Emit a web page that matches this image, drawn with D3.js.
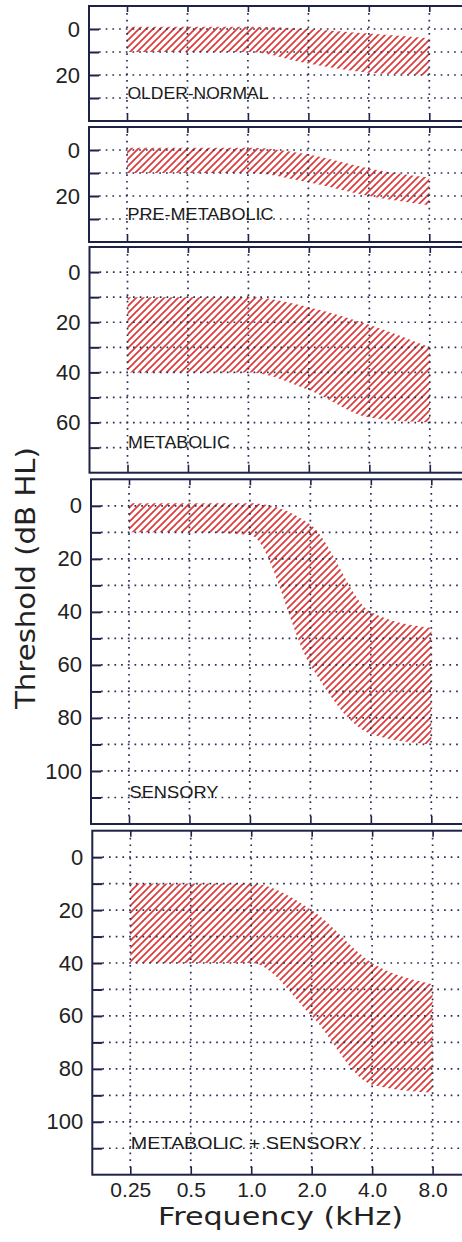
<!DOCTYPE html>
<html><head><meta charset="utf-8">
<script src="https://cdn.jsdelivr.net/npm/d3@7"></script>
<style>body{margin:0;background:#fff;overflow:hidden}</style>
</head><body>
<script>
// ---------------- DATA ----------------
const frequencies = [0.25, 0.5, 1, 2, 4, 8];
const freqLabels = ["0.25", "0.5", "1.0", "2.0", "4.0", "8.0"];
const panelNames = ["OLDER-NORMAL", "PRE-METABOLIC", "METABOLIC", "SENSORY", "METABOLIC + SENSORY"];
const panelMaxDb = [40, 40, 80, 120, 120];
const yTickLabels = [[0, 20], [0, 20], [0, 20, 40, 60], [0, 20, 40, 60, 80, 100], [0, 20, 40, 60, 80, 100]];
// upper (best) and lower (worst) threshold edge of each shaded range, dB HL
const upperOlderNormal = [-1, -1, -1, 0, 2, 4];
const lowerOlderNormal = [10, 10, 10, 15, 19, 20];
const upperPreMetabolic = [-1, -1, -1, 2, 8, 12];
const lowerPreMetabolic = [10, 10, 10, 14, 20, 24];
const upperMetabolic = [10, 10, 10, 14, 21, 30];
const lowerMetabolic = [40, 40, 40, 47, 58, 60];
const upperSensory = [-1, -1, -1, 7, 40, 46];
const lowerSensory = [10, 10, 11, 60, 86, 90];
const upperMetSens = [10, 10, 10, 20, 40, 48];
const lowerMetSens = [40, 40, 40, 60, 86, 89];
const uppers = [upperOlderNormal, upperPreMetabolic, upperMetabolic, upperSensory, upperMetSens];
const lowers = [lowerOlderNormal, lowerPreMetabolic, lowerMetabolic, lowerSensory, lowerMetSens];

// ---------------- LAYOUT ----------------
const W = 462, H = 1242;
const panelTop = [6, 127, 247, 479.3, 830.7];
const panelBottom = [121, 242, 472.7, 824, 1174.7];
const panelShift = [0, 0, 0.5, 2, 3.3];
const axisColor = "#1e2246";
const gridColor = "#2a2f55";
const hatchColor = "#dc3a3a";

const svg = d3.select("body").append("svg").attr("width", W).attr("height", H)
  .style("display", "block");

const defs = svg.append("defs");
const P = 7;
const pat = defs.append("pattern").attr("id", "hatch")
  .attr("patternUnits", "userSpaceOnUse").attr("width", P).attr("height", P);
pat.append("path").attr("d", `M-2,2 L2,-2 M0,${P} L${P},0 M${P - 2},${P + 2} L${P + 2},${P - 2}`)
  .attr("stroke", hatchColor).attr("stroke-width", 1.7).attr("fill", "none");

panelNames.forEach((name, i) => {
  const dx = panelShift[i];
  const left = 89 + dx, right = 490;
  const x = d3.scaleLog().base(2).domain([0.25, 8]).range([127 + dx, 429.3 + dx]);
  const y = d3.scaleLinear().domain([-10, panelMaxDb[i]]).range([panelTop[i], panelBottom[i]]);
  const g = svg.append("g");

  const ticks = d3.range(0, panelMaxDb[i], 10);

  // shaded range
  const data = frequencies.map((f, k) => ({ f, hi: uppers[i][k], lo: lowers[i][k] }));
  const area = d3.area().x(d => x(d.f)).y0(d => y(d.lo)).y1(d => y(d.hi)).curve(d3.curveMonotoneX);
  g.append("path").datum(data).attr("d", area).attr("fill", "url(#hatch)");

  // dotted grid
  g.selectAll(".hg").data(ticks).enter().append("line")
    .attr("x1", left + 10).attr("x2", right)
    .attr("y1", d => y(d)).attr("y2", d => y(d))
    .attr("stroke", gridColor).attr("stroke-width", 1.7).attr("stroke-dasharray", "1.7,5");
  g.selectAll(".vg").data(frequencies).enter().append("line")
    .attr("x1", d => x(d)).attr("x2", d => x(d))
    .attr("y1", panelTop[i] + 7).attr("y2", panelBottom[i] - 7)
    .attr("stroke", gridColor).attr("stroke-width", 1.7).attr("stroke-dasharray", "1.7,5");

  // left axis
  const ya = g.append("g").attr("transform", `translate(${left},0)`)
    .call(d3.axisLeft(y).tickValues(ticks).tickSize(-10).tickPadding(9)
      .tickFormat(d => yTickLabels[i].includes(d) ? String(d) : ""));
  ya.select(".domain").remove();
  ya.selectAll("line").attr("stroke", axisColor).attr("stroke-width", 2);
  ya.selectAll("text").attr("font-family", "Liberation Sans, Arial, sans-serif")
    .attr("font-size", 22).attr("fill", "#222");

  // bottom axis (ticks inward)
  const xb = g.append("g").attr("transform", `translate(0,${panelBottom[i]})`)
    .call(d3.axisBottom(x).tickValues(frequencies).tickSize(-8).tickPadding(7)
      .tickFormat((d, k) => i === panelNames.length - 1 ? freqLabels[k] : ""));
  xb.select(".domain").remove();
  xb.selectAll("line").attr("stroke", axisColor).attr("stroke-width", 1.6);
  xb.selectAll("text").attr("font-family", "Liberation Sans, Arial, sans-serif")
    .attr("font-size", 21).attr("fill", "#222");

  // top axis (ticks inward)
  const xt = g.append("g").attr("transform", `translate(0,${panelTop[i]})`)
    .call(d3.axisTop(x).tickValues(frequencies).tickSize(-6).tickFormat(""));
  xt.select(".domain").remove();
  xt.selectAll("line").attr("stroke", axisColor).attr("stroke-width", 1.6);

  // frame
  g.append("rect").attr("x", left).attr("y", panelTop[i])
    .attr("width", right - left).attr("height", panelBottom[i] - panelTop[i])
    .attr("fill", "none").attr("stroke", axisColor).attr("stroke-width", 2);

  // panel label
  const labelWidths = [141, 146, 102, 89, 231];
  g.append("text").attr("x", x(0.25) + 0.5).attr("y", y(panelMaxDb[i] - 10) + 0.5)
    .attr("font-family", "Liberation Sans, Arial, sans-serif").attr("font-size", 17)
    .attr("fill", "#1a1a1a")
    .attr("textLength", labelWidths[i]).attr("lengthAdjust", "spacingAndGlyphs")
    .text(name);
});

// axis titles
svg.append("text").attr("x", 280.5).attr("y", 1225)
  .attr("text-anchor", "middle").attr("font-family", "DejaVu Sans, sans-serif")
  .attr("font-size", 25).attr("fill", "#222")
  .attr("textLength", 245).attr("lengthAdjust", "spacingAndGlyphs")
  .text("Frequency (kHz)");
svg.append("text").attr("transform", "translate(35,578) rotate(-90)")
  .attr("text-anchor", "middle").attr("font-family", "DejaVu Sans, sans-serif")
  .attr("font-size", 27).attr("fill", "#222")
  .attr("textLength", 262).attr("lengthAdjust", "spacingAndGlyphs")
  .text("Threshold (dB HL)");
</script>
</body></html>
